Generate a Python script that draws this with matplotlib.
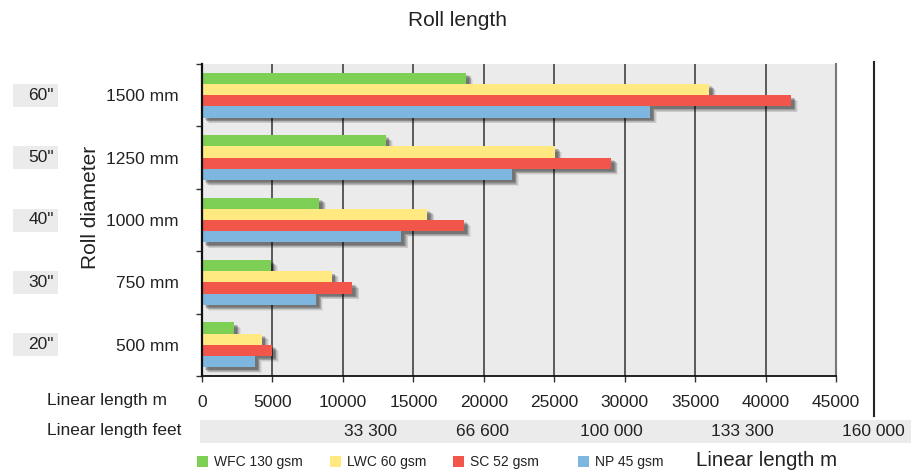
import numpy as np
import matplotlib.pyplot as plt
import matplotlib.patheffects as pe
from matplotlib.patches import Rectangle

plt.rcParams['font.family'] = ['Liberation Sans', 'DejaVu Sans']

# Roll diameters (bottom to top) and linear length in metres per paper grade
diam_mm = ['500 mm', '750 mm', '1000 mm', '1250 mm', '1500 mm']
diam_in = ['20"', '30"', '40"', '50"', '60"']
grades = ['WFC 130 gsm', 'LWC 60 gsm', 'SC 52 gsm', 'NP 45 gsm']
wfc = [2270, 4880, 8330, 13050, 18750]
lwc = [4240, 9210, 16000, 25070, 36000]
sc = [4970, 10680, 18600, 29050, 41800]
np45 = [3760, 8100, 14160, 22000, 31800]
series = [wfc, lwc, sc, np45]
colors = ['#7ecf56', '#ffe980', '#f2564a', '#7db6de']

m_ticks = np.arange(0, 45001, 5000)
feet_labels = ['33 300', '66 600', '100 000', '133 300', '160 000']
feet_x = [370, 482, 611, 742, 873]   # pixel centres in the feet band

W, H = 919, 472
fig = plt.figure(figsize=(W / 100, H / 100), dpi=100)

def fx(px):
    return px / W

def fy(py):
    return 1 - py / H

ax = fig.add_axes([fx(202), fy(376), fx(836) - fx(202), fy(64) - fy(376)])
ax.set_facecolor('#ebebeb')

bar_h = 0.18
offsets = [0.27, 0.09, -0.09, -0.27]

# soft drop shadow built from a few stacked offsets
shadow = []
for dx, dy, a in [(5.0, -4.2, 0.06), (4.4, -3.7, 0.08), (3.8, -3.2, 0.1),
                  (3.2, -2.7, 0.12), (2.6, -2.2, 0.14), (2.0, -1.7, 0.14)]:
    shadow.append(pe.SimplePatchShadow(offset=(dx, dy), shadow_rgbFace='#000', alpha=a))
shadow.append(pe.Normal())

centers = np.arange(len(diam_mm)) + 0.5
for vals, col, off in zip(series, colors, offsets):
    ax.barh(centers + off, vals, height=bar_h, color=col, linewidth=0,
            path_effects=shadow)

ax.set_xlim(0, 45000)
ax.set_ylim(0, len(diam_mm))
ax.set_axisbelow(True)
ax.set_xticks(m_ticks)
ax.set_xticklabels([str(v) for v in m_ticks], fontsize=12.5, color='#222')
ax.xaxis.grid(True, color='#333', linewidth=1.1)
ax.tick_params(axis='x', length=4, width=1, pad=10, color='#333')

ax.set_yticks(centers)
ax.set_yticklabels(diam_mm, fontsize=12.5, color='#222')
ax.set_yticks(np.arange(len(diam_mm) + 1), minor=True)
ax.tick_params(axis='y', which='major', length=0, pad=17)
ax.tick_params(axis='y', which='minor', length=4, width=1, color='#333')

ax.spines['top'].set_visible(False)
ax.spines['right'].set_color('#777')
ax.spines['right'].set_linewidth(1.5)
ax.spines['left'].set_linewidth(1.6)
ax.spines['left'].set_color('#111')
ax.spines['bottom'].set_linewidth(1.3)
ax.spines['bottom'].set_color('#111')

fig.text(fx(457), fy(20), 'Roll length', fontsize=15, ha='center', va='center',
         color='#222')
fig.text(fx(90), fy(207), 'Roll diameter', fontsize=15, rotation=90,
         ha='center', va='center', color='#222')

# inch labels on grey chips
for c, lab in zip(centers, diam_in):
    ypx = 376 - c * (312 / len(diam_mm))
    fig.patches.append(Rectangle((fx(13), fy(ypx + 11.5)), fx(45), 23 / H,
                                 transform=fig.transFigure, color='#ebebeb',
                                 linewidth=0))
    fig.text(fx(54), fy(ypx), lab, fontsize=12.5, ha='right', va='center',
             color='#222')

fig.text(fx(47), fy(400), 'Linear length m', fontsize=12.5, va='center', color='#222')
fig.text(fx(47), fy(431), 'Linear length feet', fontsize=12.5, va='center', color='#222')

# feet scale band
fig.patches.append(Rectangle((fx(200), fy(443)), fx(711), 23 / H,
                             transform=fig.transFigure, color='#ebebeb',
                             linewidth=0))
for x, lab in zip(feet_x, feet_labels):
    fig.text(fx(x), fy(431.5), lab, fontsize=12.5, ha='center', va='center',
             color='#222')

fig.add_artist(plt.Line2D([fx(874), fx(874)], [fy(62), fy(416)],
                          transform=fig.transFigure, color='#222', linewidth=1.5))

# legend
leg_x = [197, 330, 453, 578]
for x, col, lab in zip(leg_x, colors, grades):
    fig.patches.append(Rectangle((fx(x), fy(467)), fx(11), 11 / H,
                                 transform=fig.transFigure, color=col,
                                 linewidth=0))
    fig.text(fx(x + 17), fy(462), lab, fontsize=10, va='center', color='#222')
fig.text(fx(696), fy(461), 'Linear length m', fontsize=14.8, va='center',
         color='#222')

fig.savefig('out.png', dpi=100)
